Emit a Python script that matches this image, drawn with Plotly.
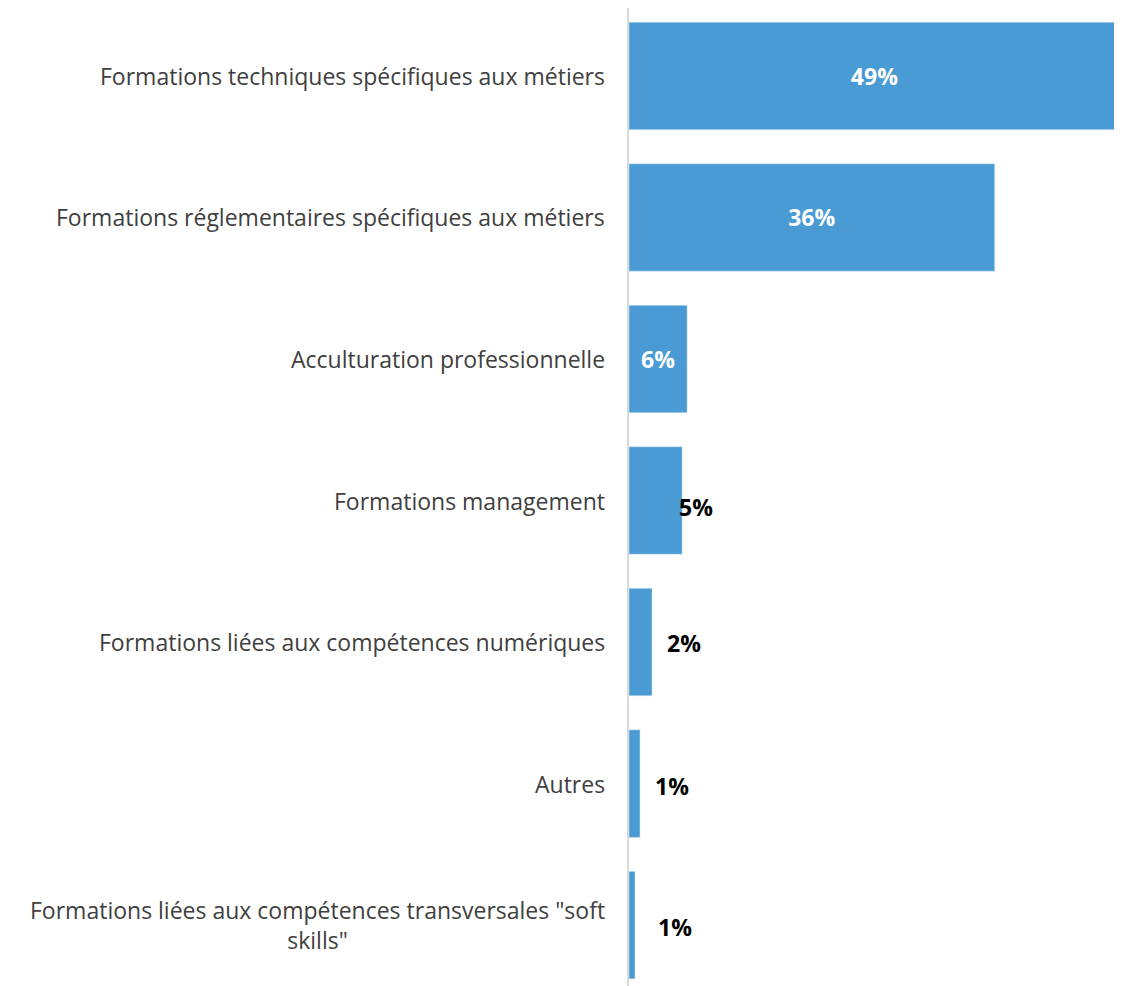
import plotly.graph_objects as go

categories = [
    "Formations techniques spécifiques aux métiers",
    "Formations réglementaires spécifiques aux métiers",
    "Acculturation professionnelle",
    "Formations management",
    "Formations liées aux compétences numériques",
    "Autres",
    "Formations liées aux compétences transversales \"soft<br>skills\"",
]
values = [49.0, 36.5, 5.8, 5.3, 2.3, 1.1, 0.6]
value_labels = ["49%", "36%", "6%", "5%", "2%", "1%", "1%"]

bar_color = "#4A9BD3"
text_font = "Open Sans, DejaVu Sans, sans-serif"

# big bars get their label inside in white, small ones outside in black
positions = ["inside" if v > 5.5 else "none" for v in values]

fig = go.Figure()
fig.add_trace(go.Bar(
    x=values,
    y=categories,
    orientation="h",
    marker_color=bar_color,
    text=value_labels,
    textposition=positions,
    insidetextanchor="middle",
    insidetextfont=dict(color="white", size=23, family=text_font, weight="bold"),
    cliponaxis=False,
    hoverinfo="skip",
))

# outside labels sit a bit away from the bar end, like in the original
nudge_x = [0, 0, 0, -5, 13, 13, 21]
nudge_y = [0, 0, 0, -6, -1, -2, -2]
for cat, v, lab, dx, dy in zip(categories, values, value_labels, nudge_x, nudge_y):
    if v > 5.5:
        continue
    fig.add_annotation(
        x=v, y=cat, xref="x", yref="y",
        text="<b>" + lab + "</b>", showarrow=False,
        xanchor="left", yanchor="middle",
        xshift=dx, yshift=dy,
        font=dict(size=23, color="black", family=text_font),
    )

# category names as annotations so the two-line label can be centred
for cat in categories:
    fig.add_annotation(
        x=0, y=cat, xref="x", yref="y",
        text=cat, showarrow=False,
        xanchor="right", yanchor="middle", align="center",
        xshift=-22,
        font=dict(size=23, color="#404040", family=text_font),
    )

fig.update_yaxes(
    range=[6.43, -0.48],
    showticklabels=False,
    showline=True, linecolor="#D9D9D9", linewidth=2,
    showgrid=False, zeroline=False, ticks="",
)
fig.update_xaxes(
    range=[0, 49],
    visible=False,
)
fig.update_layout(
    width=1114,
    height=978,
    bargap=0.24,
    plot_bgcolor="white",
    paper_bgcolor="white",
    showlegend=False,
    margin=dict(l=621, r=2, t=0, b=0),
)

fig.write_html("out.html")
